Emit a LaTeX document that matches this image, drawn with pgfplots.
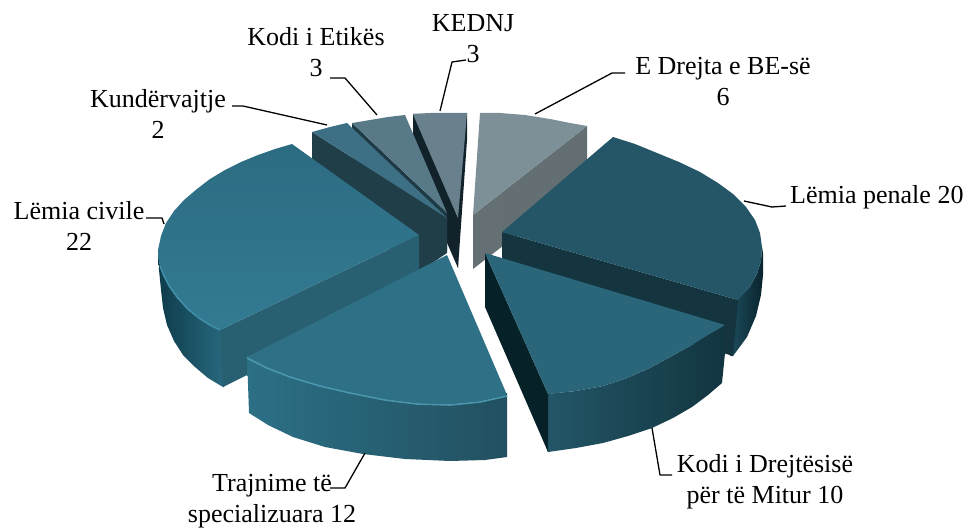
\documentclass[border=0pt]{standalone}
\usepackage{fontspec}
\setmainfont{Liberation Serif}
\usepackage{pgfplots}
\pgfplotsset{compat=1.18}
\definecolor{dk}{HTML}{12222A}
\definecolor{kt}{HTML}{68818C}
\definecolor{es}{HTML}{1E3A44}
\definecolor{et}{HTML}{587A88}
\definecolor{ks}{HTML}{1F3E48}
\definecolor{kut}{HTML}{3E7085}
\definecolor{gsa}{HTML}{647074}
\definecolor{gsb}{HTML}{626E72}
\definecolor{gt}{HTML}{7E9097}
\definecolor{csa}{HTML}{0E3C4A}
\definecolor{csb}{HTML}{28687E}
\definecolor{cin}{HTML}{286072}
\definecolor{cta}{HTML}{2C6C82}
\definecolor{ctb}{HTML}{327A92}
\definecolor{crim}{HTML}{3E8CA5}
\definecolor{psa}{HTML}{1E4C5C}
\definecolor{psb}{HTML}{08242D}
\definecolor{pin}{HTML}{14343F}
\definecolor{pt}{HTML}{245667}
\definecolor{msa}{HTML}{235667}
\definecolor{msb}{HTML}{123540}
\definecolor{min}{HTML}{062128}
\definecolor{mt}{HTML}{2A6579}
\definecolor{tsa}{HTML}{2C7086}
\definecolor{tsb}{HTML}{225060}
\definecolor{tt}{HTML}{2E7086}
\definecolor{trim}{HTML}{4A96AC}
\pgfplotsset{face/.style={draw=none,fill=#1},
 lead/.style={black,line width=1.3pt,line join=round}}
\tikzset{lab/.style={font=\fontsize{26bp}{31bp}\selectfont,text=black,align=center,inner sep=0pt}}
\begin{document}
\begin{tikzpicture}
\begin{axis}[width=969bp,height=529bp,scale only axis,xmin=0,xmax=969,ymin=0,ymax=529,y dir=reverse,hide axis,clip=false]
\addplot[draw=none] coordinates {(0,0)(969,529)};
% KEDNJ
\addplot[face=dk] coordinates {(413,114)(458,218)(458,268)(467,140)(467,113)} -- cycle;
\addplot[face=dk] coordinates {(413,114)(458,218)(458,268)(413,165)} -- cycle;
\addplot[face=kt] coordinates {(413,114)(430,113)(450,113)(467,113)(458,218)} -- cycle;
% Etikes
\addplot[face=es] coordinates {(352,123)(447,213)(447,250)(352,160)} -- cycle;
\addplot[face=et] coordinates {(352,123)(370,120)(388,117)(405,115)(447,213)} -- cycle;
% Kundervajtje
\addplot[face=ks] coordinates {(312,132)(447,218)(447,253)(419,272)(312,187)} -- cycle;
\addplot[face=kut] coordinates {(312,132)(330,127)(347,123)(447,218)} -- cycle;
% Grey
\addplot[draw=none,left color=gsa,right color=gsb] coordinates {(473,215)(587,126)(587,181)(473,269)} -- cycle;
\addplot[face=gt] coordinates {(480,113)(500,113)(525,115)(550,119)(570,123)(587,126)(473,215)} -- cycle;
% Civile
\addplot[draw=none,left color=csa,right color=csb] coordinates {(158,250)(159,262)(163,275)(169,287)(177,298)(187,309)(198,318)(209,325)(224,330)(224,387)(223,387)(208,378)(195,367)(183,355)(174,341)(167,325)(163,308)(161,290)(159,270)} -- cycle;
\addplot[face=cin] coordinates {(419,235)(220,330)(223,387)(419,290)} -- cycle;
\addplot[draw=none,top color=cta,bottom color=ctb] coordinates {(292,144)(275,149)(258,155)(241,162)(225,170)(210,179)(197,189)(184,200)(174,211)(166,223)(161,236)(158,250)(159,262)(163,275)(169,287)(177,298)(187,309)(198,318)(209,325)(220,330)(419,235)} -- cycle;
\addplot[color=crim,line width=1.6pt] coordinates {(160,266)(164,276)(170,287)(178,298)(188,309)(199,318)(210,325)(220,330)};
% Penale
\addplot[draw=none,left color=psa,right color=psb] coordinates {(736,300)(749,288)(757,274)(761,261)(762,247)(763,253)(763,275)(761,295)(756,316)(747,337)(733,356)(730,356)} -- cycle;
\addplot[face=pin] coordinates {(502,232)(738,300)(733,356)(502,285)} -- cycle;
\addplot[face=pt] coordinates {(613,137)(635,144)(657,153)(679,162)(700,172)(718,183)(733,194)(746,207)(755,220)(760,233)(762,247)(761,261)(757,274)(749,288)(738,300)(502,232)} -- cycle;
% Mitur
\addplot[draw=none,left color=msa,right color=msb] coordinates {(546,394)(576,391)(603,386)(627,378)(650,368)(670,357)(690,346)(708,335)(725,325)(725,353)(722,383)(708,395)(692,407)(673,418)(652,428)(628,436)(603,443)(576,448)(548,452)(546,447)} -- cycle;
\addplot[face=min] coordinates {(485,253)(548,394)(548,452)(485,307)} -- cycle;
\addplot[face=mt] coordinates {(485,253)(548,394)(576,391)(603,386)(627,378)(650,368)(670,357)(690,346)(708,335)(725,325)} -- cycle;
% Trajnime
\addplot[draw=none,left color=tsa,right color=tsb] coordinates {(247,355)(267,365)(290,374)(320,383)(350,390)(385,397)(417,401)(450,402)(480,399)(507,393)(507,457)(485,460)(450,461)(405,459)(363,454)(325,447)(293,437)(268,425)(249,413)} -- cycle;
\addplot[face=tt] coordinates {(447,255)(507,395)(480,401)(450,404)(417,403)(385,399)(350,392)(320,385)(290,376)(267,367)(247,357)} -- cycle;
\addplot[color=trim,line width=1.6pt] coordinates {(247,358)(267,368)(290,377)(320,386)(350,393)(385,400)(417,404)(450,405)(480,402)(507,396)};
% Leaders
\addplot[lead] coordinates {(744,201)(772,207)(786,206)};
\addplot[lead] coordinates {(652,428)(660,475)(672,475)};
\addplot[lead] coordinates {(365,453)(345,488)(330,488)};
\addplot[lead] coordinates {(146,218)(162,218)(164,224)};
\addplot[lead] coordinates {(327,125)(243,106)(232,106)};
\addplot[lead] coordinates {(377,115)(345,78)(330,78)};
\addplot[lead] coordinates {(440,111)(452,62)(466,60)};
\addplot[lead] coordinates {(535,114)(612,73)(625,73)};
% Labels
\node[lab] at (axis cs:723,82) {E Drejta e BE-së\\6};
\node[lab,anchor=west] at (axis cs:790,197) {Lëmia penale 20};
\node[lab] at (axis cs:765,482) {Kodi i Drejtësisë\\për të Mitur 10};
\node[lab] at (axis cs:272,501) {Trajnime të\\specializuara 12};
\node[lab] at (axis cs:79,226) {Lëmia civile\\22};
\node[lab] at (axis cs:158,114) {Kundërvajtje\\2};
\node[lab] at (axis cs:316,52) {Kodi i Etikës\\3};
\node[lab] at (axis cs:473,39) {KEDNJ\\3};
\end{axis}
\end{tikzpicture}
\end{document}
